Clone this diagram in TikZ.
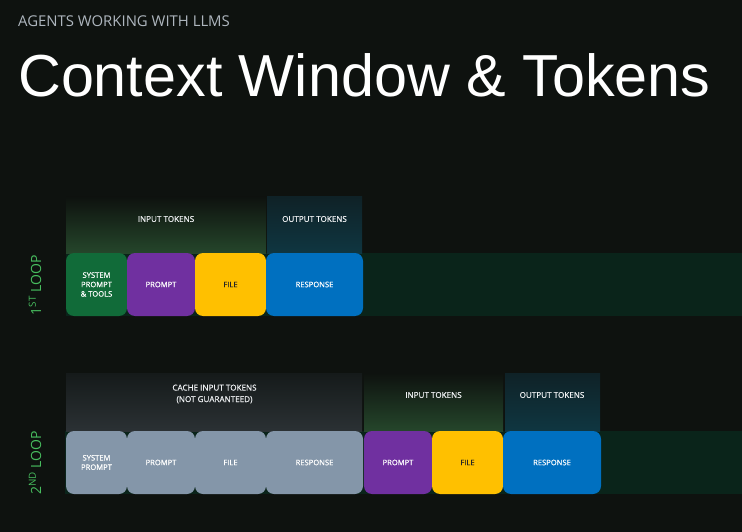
\documentclass[tikz,border=0pt]{standalone}
\usepackage{fontspec}
\setmainfont{Open Sans}
\newfontfamily\titlefont{Liberation Sans}
\newfontfamily\labelfont[FakeBold=0.6]{Open Sans}
\usetikzlibrary{positioning,calc}
\definecolor{pagebg}{HTML}{0E120F}
\definecolor{stripgreen}{HTML}{0A241A}
\definecolor{sysgreen}{HTML}{116B39}
\definecolor{promptpurple}{HTML}{7030A0}
\definecolor{fileyellow}{HTML}{FFC000}
\definecolor{responseblue}{HTML}{0070C0}
\definecolor{cachegray}{HTML}{8496A9}
\definecolor{inglow}{HTML}{25462B}
\definecolor{outglow}{HTML}{0F3641}
\definecolor{outtop}{HTML}{0F2227}
\definecolor{cacheglow}{HTML}{2B3134}
\definecolor{cachetop}{HTML}{151A1A}
\definecolor{headtext}{HTML}{EEF0F2}
\definecolor{subtext}{HTML}{AEB6BE}
\definecolor{loopgreen}{HTML}{47BC5E}

\begin{document}
\begin{tikzpicture}[x=1pt, y=1pt,
  token/.style={rounded corners=8pt, minimum height=63pt, inner sep=0pt, outer sep=0pt,
                align=center, text=white, font=\labelfont\fontsize{7.6}{9.4}\selectfont},
  header/.style={text=headtext, align=center, font=\labelfont\fontsize{8.1}{11.5}\selectfont},
  looplabel/.style={rotate=90, text=loopgreen, font=\fontsize{14}{16}\selectfont},
]
  \fill[pagebg] (0,0) rectangle (742,-532);
  \useasboundingbox (0,0) rectangle (742,-532);

  \node[anchor=base west, text=subtext, font=\fontsize{14.9}{16}\selectfont, inner sep=0pt] (subtitle) at (18,-27) {AGENTS WORKING WITH LLMS};
  \node[anchor=base west, text=white, font=\titlefont\fontsize{59.3}{60}\selectfont, inner sep=0pt] (title) at (18,-97) {Context Window \& Tokens};

  % first loop
  \coordinate (strip1) at (66,-253);
  \fill[stripgreen] (strip1) rectangle (742,-316);
  \shade[top color=pagebg, bottom color=inglow] (66,-197) rectangle (266,-253);
  \shade[top color=outtop, bottom color=outglow] (267,-197) rectangle (362,-253);
  \node[token, fill=sysgreen, minimum width=61pt, anchor=west] (sys1) at (66,-284.5) {SYSTEM\\PROMPT\\\& TOOLS};
  \node[token, fill=promptpurple, minimum width=68pt, right=0pt of sys1] (prompt1) {PROMPT};
  \node[token, fill=fileyellow, text=black!85, minimum width=71pt, right=0pt of prompt1] (file1) {FILE};
  \node[token, fill=responseblue, minimum width=97pt, right=0pt of file1] (response1) {RESPONSE};
  \node[header] (in1) at ($(sys1.north west)!0.5!(file1.north east)+(0,34)$) {INPUT TOKENS};
  \node[header] (out1) at ($(response1.north)+(0,34)$) {OUTPUT TOKENS};
  \node[looplabel] (loop1) at (35,-285) {1\textsuperscript{ST} LOOP};

  % second loop
  \coordinate (strip2) at (65,-431);
  \fill[stripgreen] (strip2) rectangle (742,-494);
  \shade[top color=cachetop, bottom color=cacheglow] (66,-373) rectangle (362,-431);
  \shade[top color=pagebg, bottom color=inglow] (364,-373) rectangle (503,-431);
  \shade[top color=outtop, bottom color=outglow] (505,-373) rectangle (600,-431);
  \node[token, fill=cachegray, minimum width=61pt, anchor=west] (sys2) at (66,-462.5) {SYSTEM\\PROMPT};
  \node[token, fill=cachegray, minimum width=68pt, right=0pt of sys2] (prompt2) {PROMPT};
  \node[token, fill=cachegray, minimum width=71pt, right=0pt of prompt2] (file2) {FILE};
  \node[token, fill=cachegray, minimum width=97pt, right=0pt of file2] (response2) {RESPONSE};
  \node[token, fill=promptpurple, minimum width=68pt, right=1pt of response2] (prompt3) {PROMPT};
  \node[token, fill=fileyellow, text=black!85, minimum width=71pt, right=0pt of prompt3] (file3) {FILE};
  \node[token, fill=responseblue, minimum width=98pt, right=0pt of file3] (response3) {RESPONSE};
  \node[header] (cache2) at ($(sys2.north west)!0.5!(response2.north east)+(0,37)$) {CACHE INPUT TOKENS\\(NOT GUARANTEED)};
  \node[header] (in2) at ($(prompt3.north west)!0.5!(file3.north east)+(0,36)$) {INPUT TOKENS};
  \node[header] (out2) at ($(response3.north)+(0,36)$) {OUTPUT TOKENS};
  \node[looplabel] (loop2) at (35,-463) {2\textsuperscript{ND} LOOP};
\end{tikzpicture}
\end{document}
